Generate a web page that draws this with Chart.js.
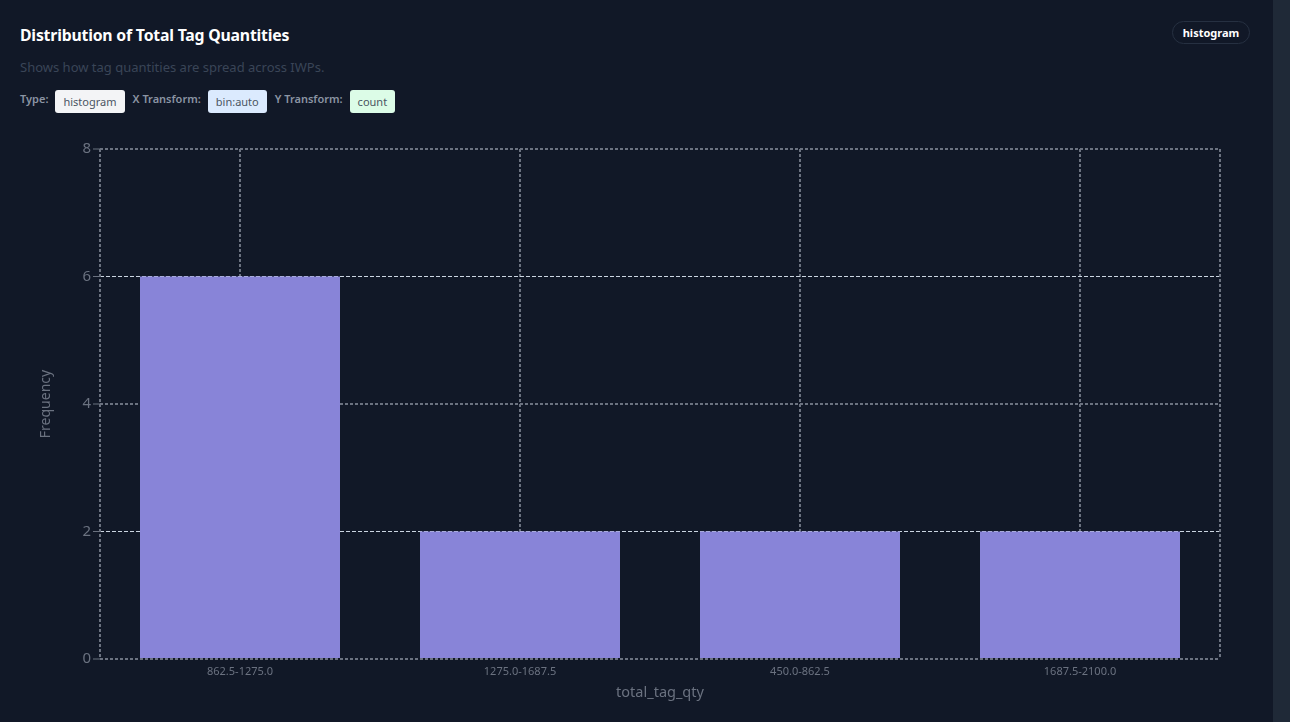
<!DOCTYPE html>
<html><head><meta charset="utf-8">
<script src="https://cdn.jsdelivr.net/npm/chart.js@4.4.1/dist/chart.umd.min.js"></script>
<style>
html,body{margin:0;padding:0;background:#111827;width:1290px;height:722px;overflow:hidden;font-family:"Noto Sans","Open Sans",sans-serif;}
.strip{position:absolute;left:1273px;top:0;width:17px;height:722px;background:#1f2937;}
.title{position:absolute;left:20px;top:24px;color:#ffffff;font-weight:700;font-size:15.8px;letter-spacing:-0.2px;}
.sub{position:absolute;left:20px;top:58px;color:#3a4557;font-size:13px;}
.row{position:absolute;left:20px;top:90px;height:23px;display:flex;align-items:center;font-size:11px;}
.lbl{color:#8b94a3;font-weight:600;margin-right:7px;position:relative;top:-3px;}
.badge{color:#4b5563;border-radius:3px;padding:0 8px;height:23px;line-height:23px;margin-right:8px;}
.pill{position:absolute;left:1172px;top:21px;width:76px;height:21px;border:1px solid #263041;border-radius:12px;color:#fff;font-weight:700;font-size:11px;text-align:center;line-height:21px;}
#wrap{position:absolute;left:20px;top:135px;width:1230px;height:575px;}
</style></head>
<body>
<div class="strip"></div>
<div class="title">Distribution of Total Tag Quantities</div>
<div class="sub">Shows how tag quantities are spread across IWPs.</div>
<div class="row">
  <span class="lbl">Type:</span><span class="badge" style="background:#f3f4f6">histogram</span>
  <span class="lbl">X Transform:</span><span class="badge" style="background:#dbeafe">bin:auto</span>
  <span class="lbl">Y Transform:</span><span class="badge" style="background:#dcfce7">count</span>
</div>
<div class="pill">histogram</div>
<div id="wrap"><canvas id="c"></canvas></div>
<script>
const categories = ["862.5-1275.0", "1275.0-1687.5", "450.0-862.5", "1687.5-2100.0"];
const frequency = [6, 2, 2, 2];
const yTicks = [0, 2, 4, 6, 8];

const grayLine = '#6b7280';
const lightLine = '#cbd5e1';
const grayDash = [3, 2];
const lightDash = [4, 2];

const framePlugin = {
  id: 'dashedFrame',
  beforeDatasetsDraw(chart) {
    const { ctx, chartArea: a } = chart;
    ctx.save();
    ctx.strokeStyle = grayLine;
    ctx.lineWidth = 2;
    ctx.setLineDash(grayDash);
    ctx.beginPath();
    ctx.moveTo(a.left, a.top); ctx.lineTo(a.left, a.bottom);
    ctx.moveTo(a.right, a.top); ctx.lineTo(a.right, a.bottom);
    ctx.stroke();
    ctx.restore();
  }
};

new Chart(document.getElementById('c'), {
  type: 'bar',
  data: {
    labels: categories,
    datasets: [{
      label: 'Frequency',
      data: frequency,
      backgroundColor: '#8884d8',
      borderWidth: 0,
      barPercentage: 200/280,
      categoryPercentage: 1
    }]
  },
  options: {
    responsive: true,
    maintainAspectRatio: false,
    animation: false,
    layout: { padding: { top: 14, right: 30, left: 0, bottom: 0 } },
    plugins: { legend: { display: false }, tooltip: { enabled: false } },
    scales: {
      x: {
        offset: true,
        grid: { offset: false, color: grayLine, lineWidth: 2, drawTicks: false },
        border: { display: false, dash: grayDash },
        ticks: { color: '#6b7280', font: { size: 11, family: '"Noto Sans", sans-serif' }, padding: 6, maxRotation: 0 },
        title: { display: true, text: 'total_tag_qty', color: '#6b7280', font: { size: 14.5, family: '"Noto Sans", sans-serif' }, padding: { top: 0, bottom: 8 } },
        afterFit: s => { s.height = 51; }
      },
      y: {
        min: yTicks[0], max: yTicks[yTicks.length - 1],
        afterBuildTicks: s => { s.ticks = yTicks.map(v => ({ value: v })); },
        grid: {
          color: ctx => (ctx.index % 2 === 1 ? lightLine : grayLine),
          lineWidth: ctx => (ctx.index % 2 === 1 ? 1 : 2),
          tickColor: grayLine, tickLength: 7, tickWidth: 1
        },
        border: { display: false, dash: ctx => (ctx.index % 2 === 1 ? lightDash : grayDash) },
        ticks: { color: '#6b7280', font: { size: 15, family: '"Noto Sans", sans-serif' }, padding: 2 },
        title: { display: true, text: 'Frequency', color: '#6b7280', font: { size: 14, family: '"Noto Sans", sans-serif' }, padding: { top: 18, bottom: 0 } },
        afterFit: s => { s.width = 80; }
      }
    }
  },
  plugins: [framePlugin]
});
</script>
</body></html>
